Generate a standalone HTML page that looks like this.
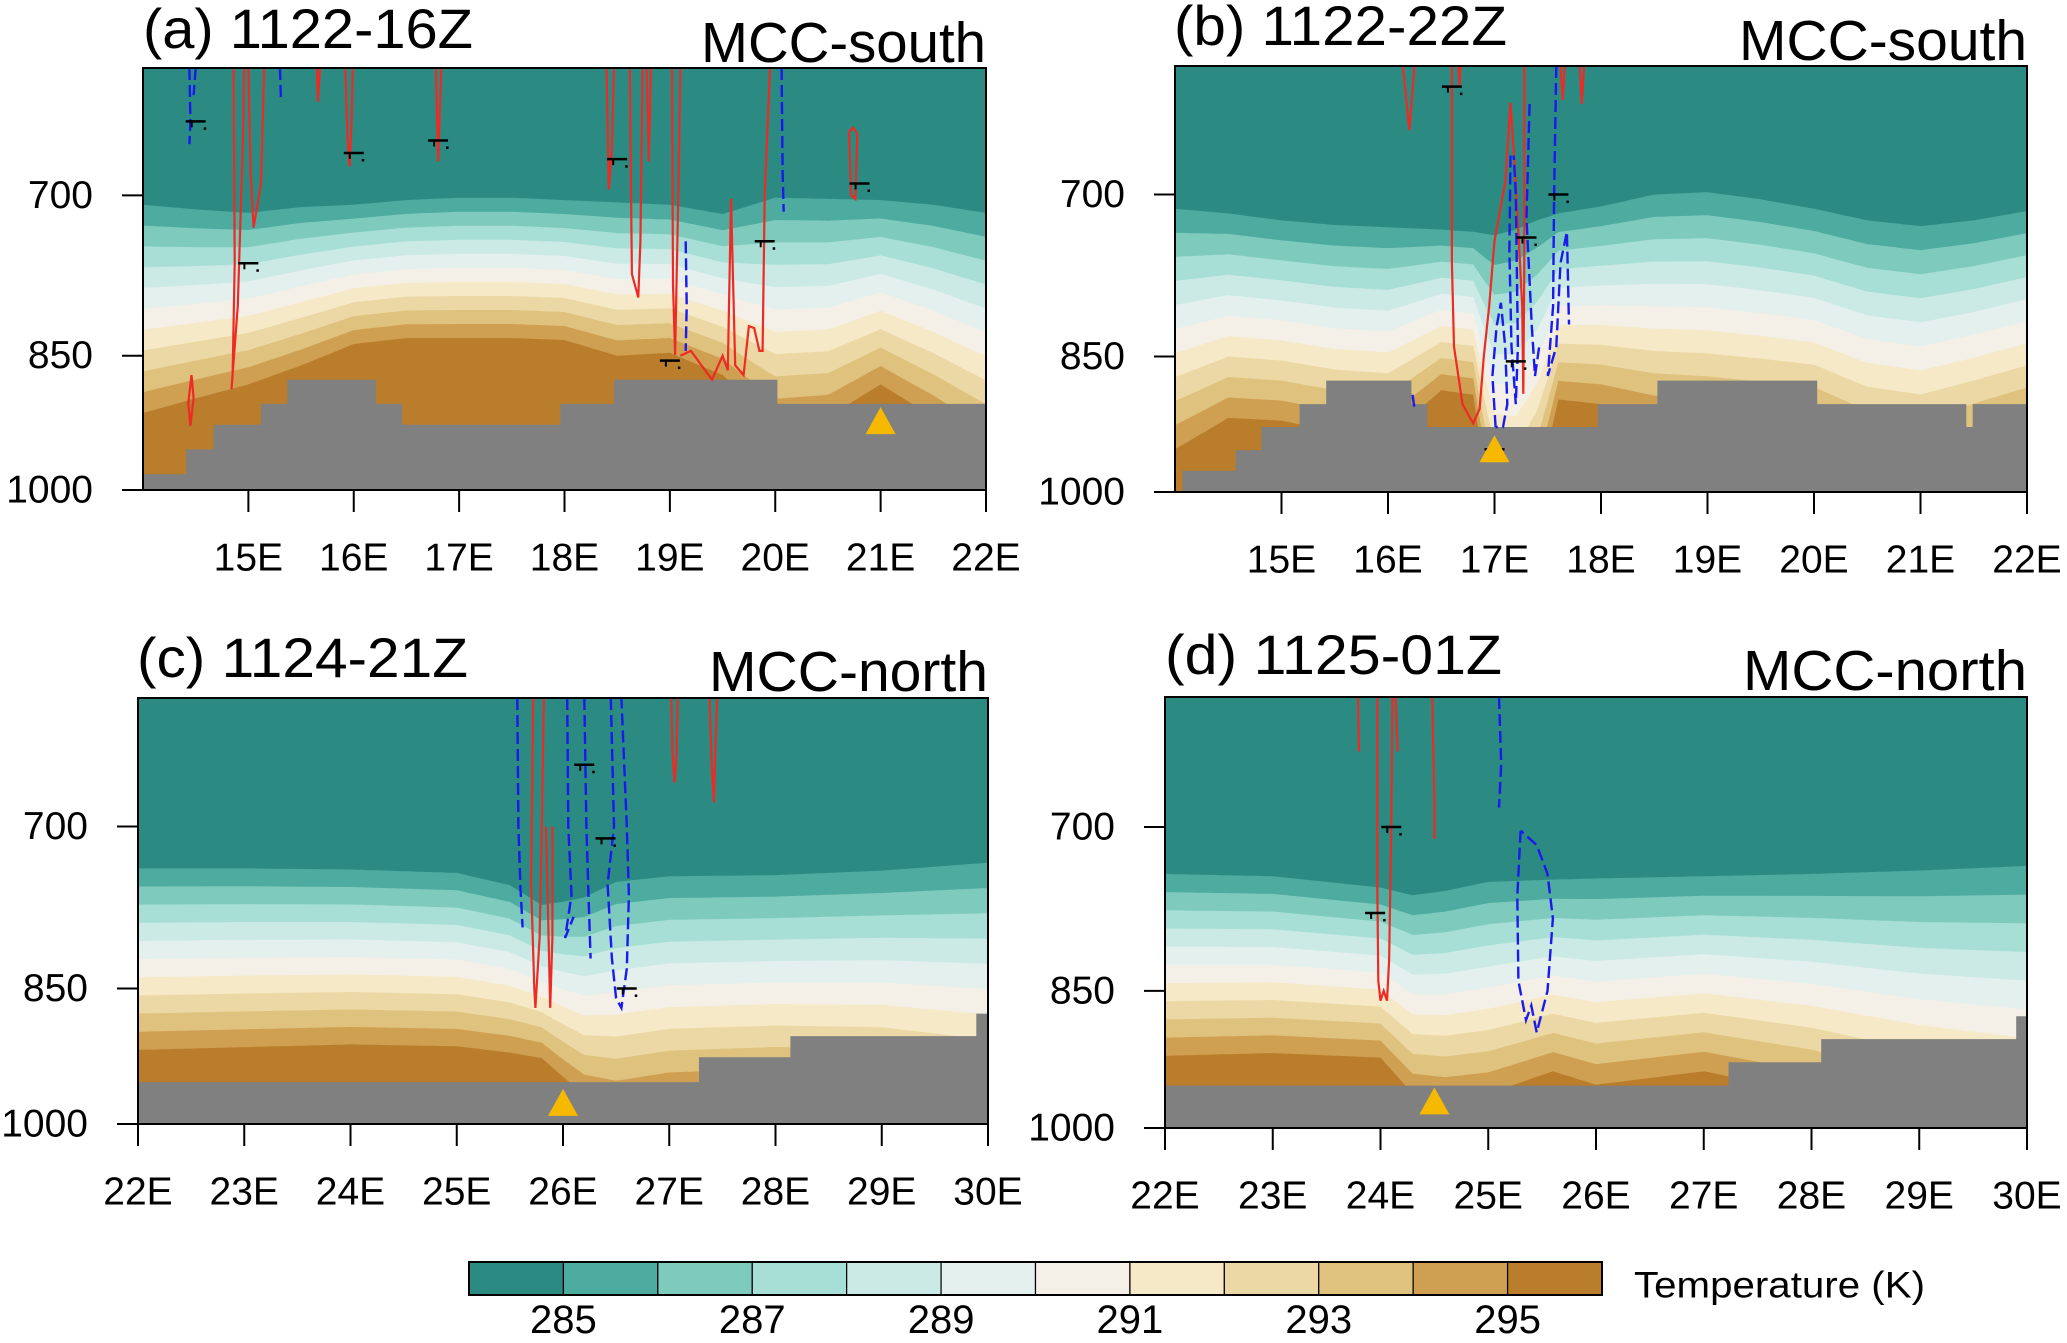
<!DOCTYPE html>
<html><head><meta charset="utf-8"><style>
html,body{margin:0;padding:0;background:#fff;}
svg{display:block;font-family:"Liberation Sans",Arial,sans-serif;}
</style></head><body>
<svg id="fig" width="2067" height="1343" viewBox="0 0 2067 1343" xmlns="http://www.w3.org/2000/svg"></svg>
<script>
// ---------------- DATA ----------------
const levelValues = [285,286,287,288,289,290,291,292,293,294,295];
const levelColors = ["#2b8b83","#4dab9f","#7ecbbd","#a7dfd6","#cbeae5","#e4f0ee","#f4f0e7","#f6e9c7","#ecd8a4","#dfc27d","#cf9f52","#b97d2b"];
const colorbarLabels = [285,287,289,291,293,295];
const yTickValues = [700,850,1000];

// panel a
const aLons = [14,14.5,15,15.5,16,16.5,17,17.5,18,18.5,19,19.5,20,20.5,21,21.5,22];
const aPTop = [708,712,715,710,708,704,702,702,704,706,708,716,702,703,704,708,715];
const aPBot = [911,895,880,860,838,832,832,832,834,850,847,870,920,915,880,915,955];
const aTerrLon = [14,14.41,14.67,15.12,15.37,16.21,16.46,17.96,18.47,20.02];
const aTerrP = [981,952,924,901,875,901,924,901,875,901];
const aRed = [
 [[14.86,600],[14.87,760],[14.85,870],[14.84,885],[14.9,800],[14.95,650],[14.96,600]],
 [[15.0,600],[15.02,680],[15.05,728],[15.12,690],[15.15,600]],
 [[14.46,870],[14.43,900],[14.45,925],[14.48,895],[14.46,870]],
 [[15.65,600],[15.66,625],[15.68,600]],
 [[15.92,600],[15.94,650],[15.96,676],[15.98,640],[15.99,600]],
 [[16.78,600],[16.8,672],[16.83,600]],
 [[18.4,600],[18.42,695],[18.45,660],[18.47,600]],
 [[18.62,600],[18.64,770],[18.7,792],[18.72,740],[18.74,600]],
 [[18.78,600],[18.8,672],[18.82,600]],
 [[19.02,600],[19.03,780],[19.05,849],[19.08,700],[19.1,600]],
 [[19.1,850],[19.2,845],[19.3,860],[19.4,875],[19.5,850],[19.55,865],[19.58,703],[19.62,860],[19.7,870],[19.75,820],[19.8,822],[19.85,845],[19.88,845],[19.9,700],[19.95,600]],
 [[20.7,648],[20.72,700],[20.76,703],[20.78,650],[20.74,645],[20.7,648]]
];
const aBlue = [
 [[14.44,600],[14.45,640],[14.44,658]],
 [[14.5,600],[14.48,620]],
 [[15.3,600],[15.31,625]],
 [[19.15,740],[19.16,800],[19.15,845]],
 [[20.06,600],[20.07,680],[20.08,714]]
];
const aBarbs = [[14.5,640],[16,665],[16.8,655],[18.5,670],[20.8,690],[15.0,760],[19.9,740],[19.0,855]];
const aTriangle = [21,920];

// panel b
const bLons = [14,14.5,15,15.5,16,16.5,16.8,17,17.2,17.4,17.6,18,18.5,19,19.5,20,20.5,21,21.5,22];
const bPTop = [712,716,722,726,728,730,732,735,730,722,716,710,700,698,704,712,722,727,722,714];
const bPBot = [950,915,918,930,935,885,890,1050,1060,1000,895,900,915,920,925,930,960,970,950,930];
const bTerrLon = [14,14.07,14.57,14.81,15.17,15.42,16.22,16.37,17.97,18.53,20.03,21.43,21.49];
const bTerrP = [1000,975,951,925,900,875,900,925,900,875,900,925,900];
const bRed = [
 [[16.14,600],[16.2,648],[16.25,600]],
 [[16.6,600],[16.6,760],[16.62,840],[16.7,900],[16.8,921],[16.86,905],[16.9,850],[16.95,800],[17.0,740],[17.1,690],[17.15,627],[17.2,690],[17.26,800],[17.27,889],[17.28,760],[17.28,600]],
 [[16.66,600],[16.67,615],[16.68,600]],
 [[17.62,600],[17.64,625],[17.66,600]],
 [[17.8,600],[17.82,628],[17.84,600]]
];
const bBlue = [
 [[17.01,925],[16.98,870],[17.02,820],[17.06,797],[17.1,840],[17.12,900],[17.08,925],[17.01,925]],
 [[17.15,668],[17.14,750],[17.16,840],[17.2,900],[17.22,840],[17.2,700],[17.18,668]],
 [[17.33,628],[17.3,720],[17.35,820],[17.38,870],[17.42,840]],
 [[17.58,600],[17.56,700],[17.55,800],[17.5,870],[17.58,840],[17.62,760],[17.68,732],[17.7,818]],
 [[16.23,890],[16.25,905]]
];
const bBarbs = [[16.6,615],[17.3,737],[17.6,700],[17.2,855],[17.0,950]];
const bTriangle = [17,950];

// panel c
const cLons = [22,23,24,25,25.5,25.8,26,26.2,26.5,27,28,29,30];
const cPTop = [736,736,737,740,751,769,766,762,748,743,742,738,731];
const cPBot = [915,912,909,911,918,924,945,965,975,965,960,965,990];
const cTerrLon = [22,27.28,28.14,29.89];
const cTerrP = [951,923,900,876];
const cRed = [
 [[25.72,600],[25.7,750],[25.73,850],[25.74,870],[25.78,800],[25.8,700],[25.82,600]],
 [[25.84,700],[25.86,780],[25.88,870],[25.9,800],[25.9,700]],
 [[27.02,600],[27.03,640],[27.05,664],[27.07,640],[27.08,600]],
 [[27.45,600],[27.43,650],[27.42,680],[27.4,650],[27.38,600]]
];
const cBlue = [
 [[25.57,600],[25.58,700],[25.6,754],[25.62,790]],
 [[26.04,600],[26.05,700],[26.08,760],[26.02,800],[26.1,780]],
 [[26.2,600],[26.22,700],[26.24,760],[26.26,820]],
 [[26.45,600],[26.48,700],[26.42,750],[26.46,820],[26.5,860],[26.55,870],[26.6,830],[26.62,760],[26.6,700],[26.55,600]]
];
const cBarbs = [[26.2,650],[26.4,710],[26.6,850]];
const cTriangle = [26,975];

// panel d
const dLons = [22,23,24,24.3,24.6,25,25.6,26,27,28,29,30];
const dPTop = [740,742,752,759,755,747,745,744,742,740,737,733];
const dPBot = [918,915,920,960,965,960,935,950,935,960,1000,1030];
const dTerrLon = [22,27.23,28.09,29.9];
const dTerrP = [951,925,900,876];
const dRed = [
 [[23.79,600],[23.8,640]],
 [[23.97,600],[23.97,750],[23.98,840],[24.0,860],[24.03,850],[24.06,860],[24.08,820],[24.1,700],[24.11,600]],
 [[24.14,600],[24.16,640]],
 [[24.48,600],[24.5,680],[24.5,710]]
];
const dBlue = [
 [[25.1,600],[25.12,650],[25.1,684]],
 [[25.3,703],[25.27,760],[25.28,840],[25.35,880],[25.4,865],[25.45,893],[25.55,850],[25.6,780],[25.55,740],[25.45,715],[25.3,703]]
];
const dBarbs = [[24.1,700],[23.95,775]];
const dTriangle = [24.5,969];

// ---------------- RENDER ----------------
const NS = "http://www.w3.org/2000/svg";
const svg = document.getElementById("fig");
function mk(tag, attrs, parent){
  const e = document.createElementNS(NS, tag);
  for (const k in attrs) e.setAttribute(k, attrs[k]);
  (parent||svg).appendChild(e);
  return e;
}
function interp(xs, ys, x){
  if (x <= xs[0]) return ys[0];
  for (let i=1;i<xs.length;i++){
    if (x <= xs[i]){ const t=(x-xs[i-1])/(xs[i]-xs[i-1]); return ys[i-1]+t*(ys[i]-ys[i-1]); }
  }
  return ys[ys.length-1];
}

const panels = [
 {id:"a", x0:143,x1:986,y0:68,y1:490,lonMin:14,lonMax:22,ticks:[15,16,17,18,19,20,21,22],
  title:"(a) 1122-16Z", tx0:143, tx1:473, tby:48, region:"MCC-south", rx0:701, rby:62,
  lons:aLons,pTop:aPTop,pBot:aPBot,terrLon:aTerrLon,terrP:aTerrP,red:aRed,blue:aBlue,barbs:aBarbs,tri:aTriangle},
 {id:"b", x0:1175,x1:2027,y0:66,y1:492,lonMin:14,lonMax:22,ticks:[15,16,17,18,19,20,21,22],
  title:"(b) 1122-22Z", tx0:1174, tx1:1507, tby:45, region:"MCC-south", rx0:1739, rby:60,
  lons:bLons,pTop:bPTop,pBot:bPBot,terrLon:bTerrLon,terrP:bTerrP,red:bRed,blue:bBlue,barbs:bBarbs,tri:bTriangle},
 {id:"c", x0:138,x1:988,y0:698,y1:1124,lonMin:22,lonMax:30,ticks:[22,23,24,25,26,27,28,29,30],
  title:"(c) 1124-21Z", tx0:137, tx1:468, tby:677, region:"MCC-north", rx0:709, rby:691,
  lons:cLons,pTop:cPTop,pBot:cPBot,terrLon:cTerrLon,terrP:cTerrP,red:cRed,blue:cBlue,barbs:cBarbs,tri:cTriangle},
 {id:"d", x0:1165,x1:2027,y0:697,y1:1128,lonMin:22,lonMax:30,ticks:[22,23,24,25,26,27,28,29,30],
  title:"(d) 1125-01Z", tx0:1165, tx1:1502, tby:674, region:"MCC-north", rx0:1743, rby:690,
  lons:dLons,pTop:dPTop,pBot:dPBot,terrLon:dTerrLon,terrP:dTerrP,red:dRed,blue:dBlue,barbs:dBarbs,tri:dTriangle}
];

const LN600 = Math.log(600), LN1000 = Math.log(1000);

panels.forEach(P=>{
  const xOf = lon => P.x0 + (lon-P.lonMin)/(P.lonMax-P.lonMin)*(P.x1-P.x0);
  const yOf = p => P.y0 + (Math.log(p)-LN600)/(LN1000-LN600)*(P.y1-P.y0);
  const g = mk("g",{});
  
  
  const defs = mk("defs",{},g);
  const cp = mk("clipPath",{id:"clip-"+P.id},defs);
  mk("rect",{x:P.x0,y:P.y0,width:P.x1-P.x0,height:P.y1-P.y0},cp);
  const plot = mk("g",{"clip-path":"url(#clip-"+P.id+")"},g);
  
  

  const base = mk("rect",{x:P.x0,y:P.y0,width:P.x1-P.x0,height:P.y1-P.y0,fill:levelColors[0]},plot);
  
  

  const N = 240;
  for (let k=0;k<levelValues.length;k++){
    const frac = k/(levelValues.length-1);
    let d = "";
    for (let i=0;i<=N;i++){
      const lon = P.lonMin + (P.lonMax-P.lonMin)*i/N;
      const lt = Math.log(interp(P.lons,P.pTop,lon));
      const lb = Math.log(interp(P.lons,P.pBot,lon));
      const p = Math.exp(lt + (lb-lt)*frac);
      d += (i===0?"M":"L") + xOf(lon).toFixed(1) + "," + yOf(p).toFixed(1);
    }
    d += "L"+P.x1+","+(P.y1+5)+"L"+P.x0+","+(P.y1+5)+"Z";
    const band = mk("path",{d:d,fill:levelColors[k+1]},plot);
    
    
  }

  let td = "M"+xOf(P.terrLon[0])+","+(P.y1+5);
  for (let i=0;i<P.terrLon.length;i++){
    const xs = xOf(P.terrLon[i]);
    const xe = xOf(i+1<P.terrLon.length ? P.terrLon[i+1] : P.lonMax);
    const y = yOf(P.terrP[i]);
    td += "L"+xs.toFixed(1)+","+y.toFixed(1)+"L"+xe.toFixed(1)+","+y.toFixed(1);
  }
  td += "L"+P.x1+","+(P.y1+5)+"Z";
  const terr = mk("path",{d:td,fill:"#808080"},plot);
  
  

  P.red.forEach(line=>{
    const pts = line.map(q=>xOf(q[0]).toFixed(1)+","+yOf(q[1]).toFixed(1)).join(" ");
    const pl = mk("polyline",{points:pts,fill:"none",stroke:"#ee2a24","stroke-width":2.2},plot);
    
    
  });
  P.blue.forEach(line=>{
    const pts = line.map(q=>xOf(q[0]).toFixed(1)+","+yOf(q[1]).toFixed(1)).join(" ");
    const pl = mk("polyline",{points:pts,fill:"none",stroke:"#1a1aee","stroke-width":2.4,"stroke-dasharray":"12 5"},plot);
    
    
  });
  P.barbs.forEach(b=>{
    const x = xOf(b[0]), y = yOf(b[1]);
    const bg = mk("g",{},plot);
    
    
    mk("line",{x1:x-10,y1:y,x2:x+10,y2:y,stroke:"#000","stroke-width":2.5},bg);
    mk("line",{x1:x-4,y1:y,x2:x-4,y2:y+6,stroke:"#000","stroke-width":2},bg);
    mk("rect",{x:x+8,y:y+6,width:2.5,height:2.5,fill:"#000"},bg);
  });
  const tx = xOf(P.tri[0]), ty = yOf(P.tri[1]);
  const tri = mk("polygon",{points:(tx-15)+","+(ty+13)+" "+(tx+15)+","+(ty+13)+" "+tx+","+(ty-14),fill:"#f7b900"},g);
  
  

  const fr = mk("rect",{x:P.x0,y:P.y0,width:P.x1-P.x0,height:P.y1-P.y0,fill:"none",stroke:"#000","stroke-width":2},g);
  
  

  yTickValues.forEach(v=>{
    const y = yOf(v);
    const t = mk("line",{x1:P.x0-21,y1:y,x2:P.x0,y2:y,stroke:"#000","stroke-width":2},g);
    
    
    const tl = mk("text",{x:P.x0-50,y:y,"text-anchor":"end","dominant-baseline":"central","font-size":39,fill:"#000"},g);
    
    
    tl.textContent = v;
  });
  P.ticks.forEach(v=>{
    const x = xOf(v);
    const t = mk("line",{x1:x,y1:P.y1,x2:x,y2:P.y1+22,stroke:"#000","stroke-width":2},g);
    
    
    const tl = mk("text",{x:x,y:P.y1+68,"text-anchor":"middle","dominant-baseline":"central","font-size":39,fill:"#000"},g);
    
    
    tl.textContent = v+"E";
  });
  const tt = mk("text",{x:P.tx0,y:P.tby,"font-size":56,fill:"#000",textLength:P.tx1-P.tx0,lengthAdjust:"spacingAndGlyphs"},g);
  
  
  tt.textContent = P.title;
  const rt = mk("text",{x:P.rx0,y:P.rby,"font-size":57,fill:"#000",textLength:P.x1-P.rx0,lengthAdjust:"spacingAndGlyphs"},g);
  
  
  rt.textContent = P.region;
});

const cbX0 = 469, cbX1 = 1602, cbY0 = 1262, cbY1 = 1295;
const cb = mk("g",{});


const cw = (cbX1-cbX0)/levelColors.length;
levelColors.forEach((c,i)=>{
  const r = mk("rect",{x:cbX0+i*cw,y:cbY0,width:cw,height:cbY1-cbY0,fill:c,stroke:"#000","stroke-width":1.2},cb);
  
  
});
mk("rect",{x:cbX0,y:cbY0,width:cbX1-cbX0,height:cbY1-cbY0,fill:"none",stroke:"#000","stroke-width":2},cb);
colorbarLabels.forEach(v=>{
  const idx = levelValues.indexOf(v) + 1;
  const t = mk("text",{x:cbX0+idx*cw,y:1320,"text-anchor":"middle","dominant-baseline":"central","font-size":40,fill:"#000"},cb);
  
  
  t.textContent = v;
});
const ct = mk("text",{x:1634,y:1285,"dominant-baseline":"central","font-size":37,fill:"#000",textLength:291,lengthAdjust:"spacingAndGlyphs"},cb);


ct.textContent = "Temperature (K)";
</script>
</body></html>
